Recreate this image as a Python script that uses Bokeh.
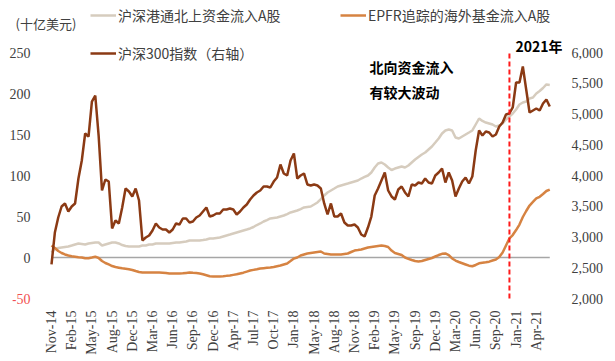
import math
import numpy as np
from bokeh.plotting import figure
from bokeh.models import (Range1d, LinearAxis, FixedTicker, NumeralTickFormatter,
                          Label, Legend, LegendItem, ColumnDataSource)
from bokeh.embed import file_html
from bokeh.resources import INLINE

# ---------------- data ----------------
tick_labels = ["Nov-14", "Feb-15", "May-15", "Aug-15", "Dec-15", "Mar-16", "Jun-16",
               "Sep-16", "Dec-16", "Apr-17", "Jul-17", "Oct-17", "Jan-18", "May-18",
               "Aug-18", "Nov-18", "Feb-19", "May-19", "Sep-19", "Dec-19", "Mar-20",
               "Jun-20", "Sep-20", "Jan-21", "Apr-21"]
points_per_tick = 6          # samples between two consecutive tick labels
year2021_pos = 22.67         # position of 1 Jan 2021 on the axis (tick units)

# 沪深港通北上资金流入A股 (十亿美元, cumulative)
northbound = [6.1, 10.4, 11.6, 12.2, 12.8, 13.4, 14.6, 15.9, 17.1, 16.5,
              15.9, 17.1, 17.7, 18.3, 18.3, 14.6, 15.9, 17.1, 18.3, 18.3,
              17.1, 15.2, 14.0, 13.4, 13.4, 13.4, 13.4, 14.6, 14.6, 15.9,
              15.9, 17.1, 17.1, 17.1, 17.1, 17.1, 17.7, 18.3, 18.3, 18.9,
              19.5, 20.7, 20.7, 20.7, 20.7, 21.3, 22.0, 23.2, 23.2, 23.8,
              24.4, 25.6, 26.8, 28.0, 29.3, 30.5, 31.7, 32.9, 34.1, 35.4,
              37.2, 39.6, 41.5, 43.9, 45.7, 47.6, 48.2, 48.8, 50.0, 51.2,
              53.0, 54.9, 56.1, 57.3, 59.1, 61.0, 61.6, 62.2, 64.6, 67.1,
              71.3, 75.6, 79.3, 81.7, 84.1, 86.6, 87.8, 89.0, 90.2, 91.5,
              92.7, 93.9, 96.3, 98.2, 100.0, 103.7, 109.8, 114.6, 115.9, 113.4,
              109.8, 106.7, 108.5, 109.8, 111.0, 109.8, 112.2, 115.9, 119.5, 122.6,
              125.6, 128.0, 131.7, 135.4, 140.2, 145.1, 151.2, 154.9, 156.1, 154.9,
              146.3, 145.1, 147.6, 150.0, 152.4, 154.9, 162.2, 169.5, 166.5, 164.6,
              163.4, 162.2, 159.8, 161.0, 163.4, 168.3, 171.9, 175.6, 180.5, 186.6,
              189.0, 190.2, 193.9, 195.1, 200.0, 203.0, 206.7, 211.0, 210.4]

# EPFR追踪的海外基金流入A股 (十亿美元, cumulative)
epfr = [14.6, 11.6, 7.9, 5.5, 3.7, 2.4, 1.6, 1.0, 0.4, 0.0,
        -0.9, -0.9, 0.0, 1.0, -0.6, -4.3, -6.7, -8.5, -10.4, -11.6,
        -12.4, -13.2, -13.8, -14.4, -15.2, -16.5, -17.7, -18.3, -18.3, -18.3,
        -18.3, -18.3, -18.3, -18.5, -18.9, -19.5, -19.5, -19.5, -19.5, -19.3,
        -18.8, -18.3, -18.7, -19.0, -19.5, -20.5, -21.7, -22.9, -23.2, -23.2,
        -23.2, -22.9, -22.4, -22.0, -21.2, -20.5, -19.5, -18.5, -17.2, -15.9,
        -15.1, -14.3, -13.4, -13.0, -12.6, -12.2, -11.5, -10.6, -9.8, -8.5,
        -7.3, -4.3, -1.2, 0.0, 2.4, 3.7, 4.9, 5.5, 6.1, 6.7,
        7.3, 4.9, 4.3, 3.7, 3.7, 3.7, 3.7, 4.3, 4.9, 6.7,
        8.5, 9.1, 9.8, 11.0, 12.2, 12.8, 13.4, 14.0, 14.6, 14.0,
        12.8, 8.5, 5.5, 4.3, 3.0, 0.0, -1.6, -3.0, -4.3, -4.9,
        -4.3, -3.0, -1.8, -0.6, 1.2, 3.0, 4.5, 4.9, 3.0, -1.2,
        -3.7, -5.5, -7.0, -8.5, -10.0, -10.7, -9.1, -7.1, -6.5, -5.9,
        -5.1, -3.7, -2.4, 0.6, 6.1, 14.6, 23.2, 27.4, 33.5, 40.2,
        49.4, 56.7, 63.4, 67.7, 72.0, 74.0, 77.4, 81.1, 82.9]

# 沪深300指数 (右轴)
csi300 = [2553, 3073, 3317, 3496, 3545, 3415, 3496, 3545, 3951, 4244,
          4683, 4634, 5203, 5301, 4650, 3756, 3935, 3902, 3138, 3268,
          3220, 3480, 3789, 3740, 3659, 3789, 3593, 2943, 2992, 3024,
          3106, 3220, 3154, 3122, 3122, 3073, 3122, 3220, 3203, 3301,
          3301, 3236, 3252, 3317, 3350, 3415, 3480, 3333, 3350, 3382,
          3382, 3447, 3447, 3463, 3447, 3366, 3415, 3480, 3528, 3610,
          3675, 3724, 3756, 3821, 3821, 3805, 3902, 3967, 4179, 4033,
          4000, 4244, 4358, 3951, 4000, 4033, 3854, 3837, 3854, 3837,
          3789, 3545, 3366, 3545, 3333, 3333, 3382, 3236, 3187, 3187,
          3203, 3154, 3041, 3008, 3154, 3333, 3675, 3789, 3919, 4049,
          3756, 3659, 3610, 3772, 3821, 3724, 3659, 3854, 3837, 3886,
          3870, 3951, 3886, 3870, 4000, 4049, 4114, 3886, 4049, 3919,
          3659, 3789, 3902, 3967, 3870, 3984, 4406, 4732, 4650, 4715,
          4699, 4634, 4667, 4797, 4862, 4992, 5008, 5106, 5512, 5512,
          5772, 5398, 5024, 5057, 5089, 5057, 5171, 5236, 5122]

left_ticks = [0, 50, 100, 150, 200, 250]
left_red_tick = -50
left_min, left_max = -50, 250
right_ticks = [2000, 2500, 3000, 3500, 4000, 4500, 5000, 5500, 6000]
right_min, right_max = 2000, 6000

# ---------------- layout (page pixels) ----------------
W, H = 615, 361
frame_l, frame_r, frame_t, frame_b = 12, 562, 0, 305
axis_top_px, axis_bot_px = 52, 298          # where 250/6000 and -50/2000 sit
tick0_px, tick_step_px = 51, 20.2

px_per_left = (axis_bot_px - axis_top_px) / (left_max - left_min)
px_per_right = (axis_bot_px - axis_top_px) / (right_max - right_min)
y_lo = left_min - (frame_b - axis_bot_px) / px_per_left
y_hi = left_max + (axis_top_px - frame_t) / px_per_left
r_lo = right_min - (frame_b - axis_bot_px) / px_per_right
r_hi = right_max + (axis_top_px - frame_t) / px_per_right
x_lo = (frame_l - tick0_px) / tick_step_px
x_hi = (frame_r - tick0_px) / tick_step_px

x = np.arange(len(csi300)) / points_per_tick
src = ColumnDataSource(dict(x=x, nb=northbound, ep=epfr, csi=csi300))

p = figure(width=W, height=H, output_backend="svg", toolbar_location=None,
           x_range=Range1d(x_lo, x_hi), y_range=Range1d(y_lo, y_hi),
           min_border_left=frame_l, min_border_right=W - frame_r,
           min_border_top=frame_t, min_border_bottom=H - frame_b)
p.extra_y_ranges = {"idx": Range1d(r_lo, r_hi)}
p.outline_line_color = None
p.grid.visible = False
p.background_fill_color = "white"
p.border_fill_color = "white"

SERIF = "Liberation Serif"
CJK = "Noto Sans CJK SC"
TXT = "#404040"

def style_axis(ax, standoff, size="14px"):
    ax.axis_line_color = None
    ax.major_tick_line_color = None
    ax.minor_tick_line_color = None
    ax.major_tick_out = 0
    ax.major_tick_in = 0
    ax.minor_tick_out = 0
    ax.minor_tick_in = 0
    ax.major_label_text_font = SERIF
    ax.major_label_text_font_size = size
    ax.major_label_text_color = TXT
    ax.major_label_standoff = standoff

yl = p.yaxis[0]
yl.ticker = FixedTicker(ticks=left_ticks)
style_axis(yl, frame_l - 30)          # labels end at x=30, inside the frame

yr = LinearAxis(y_range_name="idx", ticker=FixedTicker(ticks=right_ticks),
                formatter=NumeralTickFormatter(format="0,0"))
style_axis(yr, 571 - frame_r)
p.add_layout(yr, "right")

xa = p.xaxis[0]
xa.ticker = FixedTicker(ticks=list(range(len(tick_labels))))
xa.major_label_overrides = {i: lab for i, lab in enumerate(tick_labels)}
style_axis(xa, 310 - frame_b)
xa.major_label_orientation = math.pi / 2

# zero line across the data extent
p.segment(x0=[x[0]], x1=[x[-1]], y0=[0], y1=[0], line_color="#A6A6A6", line_width=1.5)

r_nb = p.line("x", "nb", source=src, line_color="#D6CCBE", line_width=2.5)
r_ep = p.line("x", "ep", source=src, line_color="#D68342", line_width=2.5)
r_csi = p.line("x", "csi", source=src, line_color="#8B3A14", line_width=2.5,
               y_range_name="idx")

# 2021 marker
p.segment(x0=[year2021_pos], x1=[year2021_pos], y0=[left_min], y1=[left_max],
          line_color="#FF1A1A", line_width=2, line_dash="5 3")

def sx(px):
    return px - frame_l

def sy(py):
    return frame_b - py

# red -50 tick label
p.add_layout(Label(x=sx(30), x_units="screen", y=left_red_tick, y_units="data",
                   text=str(left_red_tick), text_align="right", text_baseline="middle",
                   text_font=SERIF, text_font_size="14px", text_color="#F25050"))

# unit + annotations
p.add_layout(Label(x=sx(15), y=sy(23), x_units="screen", y_units="screen",
                   text="(十亿美元)", text_align="left", text_baseline="middle",
                   text_font=CJK, text_font_size="13px", text_color=TXT))
p.add_layout(Label(x=sx(515), y=sy(45), x_units="screen", y_units="screen",
                   text="2021年", text_align="left", text_baseline="middle",
                   text_font=CJK, text_font_size="14px", text_font_style="bold",
                   text_color="black"))
p.add_layout(Label(x=sx(369), y=sy(66), x_units="screen", y_units="screen",
                   text="北向资金流入", text_align="left", text_baseline="middle",
                   text_font=CJK, text_font_size="14px", text_font_style="bold",
                   text_color="black"))
p.add_layout(Label(x=sx(369), y=sy(91), x_units="screen", y_units="screen",
                   text="有较大波动", text_align="left", text_baseline="middle",
                   text_font=CJK, text_font_size="14px", text_font_style="bold",
                   text_color="black"))

ITEM_H = 20

def make_legend(label, renderer, px, py_center):
    lg = Legend(items=[LegendItem(label=label, renderers=[renderer])],
                location=(sx(px), sy(py_center + ITEM_H / 2)),
                orientation="horizontal", glyph_width=26, glyph_height=ITEM_H,
                label_height=ITEM_H, label_standoff=2, padding=0, margin=0, spacing=0,
                label_text_font=CJK, label_text_font_size="14px",
                label_text_color=TXT, background_fill_alpha=0, border_line_alpha=0)
    p.add_layout(lg)

make_legend("沪深港通北上资金流入A股", r_nb, 90, 15)
make_legend("EPFR追踪的海外基金流入A股", r_ep, 340, 15)
make_legend("沪深300指数（右轴）", r_csi, 90, 53)

open("out.html", "w").write(file_html(p, INLINE))
